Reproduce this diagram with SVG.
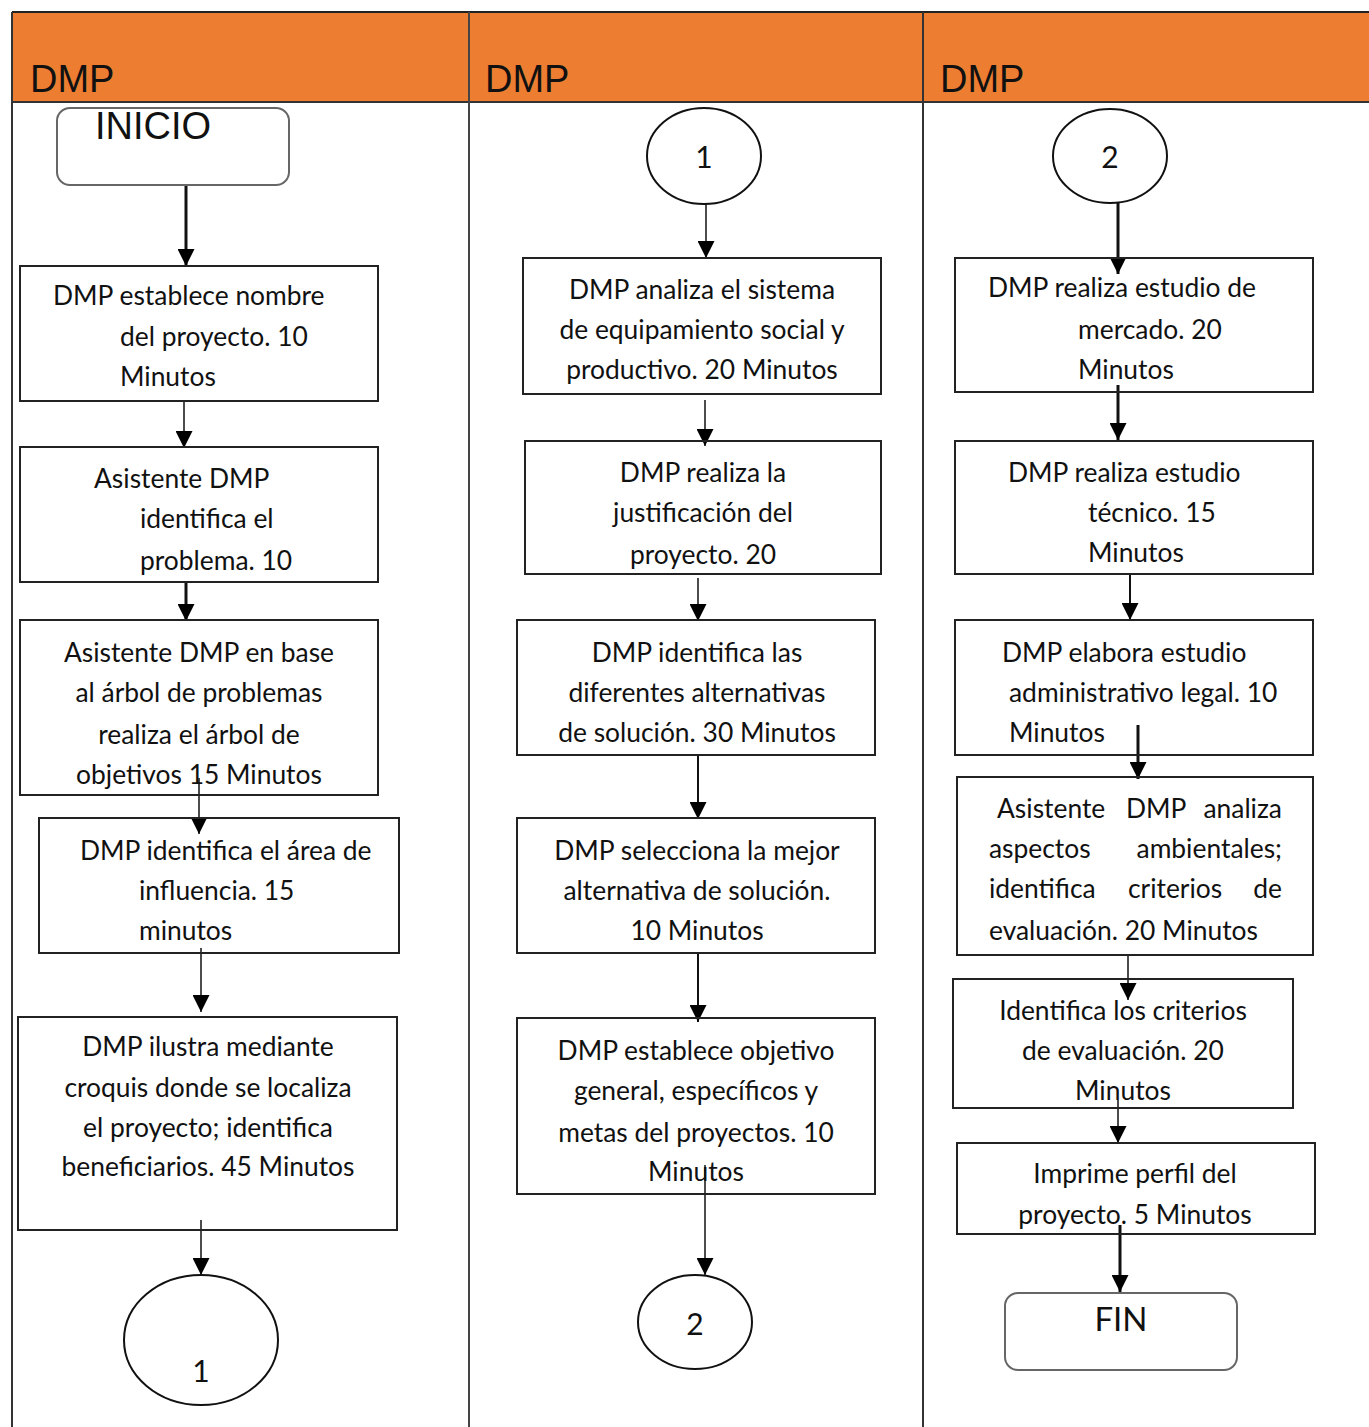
<svg xmlns="http://www.w3.org/2000/svg" width="1369" height="1427" viewBox="0 0 1369 1427">
<defs>
<style>
.box{fill:#fff;stroke:#222;stroke-width:2}
.term{fill:#fff;stroke:#666;stroke-width:2}
.ell{fill:#fff;stroke:#111;stroke-width:2}
.t{font-family:Lato,"Liberation Sans",sans-serif;font-size:26.4px;fill:#111}
.tc{font-family:Lato,"Liberation Sans",sans-serif;font-size:26.4px;fill:#111;text-anchor:middle}
.num{font-family:Lato,"Liberation Sans",sans-serif;font-size:30px;fill:#111;text-anchor:middle}
.fin{font-family:Lato,"Liberation Sans",sans-serif;font-size:33px;fill:#111;text-anchor:middle}
.hd{font-family:"Liberation Sans",Arial,sans-serif;font-size:38px;fill:#111}
.c{stroke:#111;fill:none}
.thin{stroke-width:1.5}
.thick{stroke-width:3}
</style>
<marker id="ah" viewBox="0 0 10 10" refX="10" refY="5" markerWidth="17" markerHeight="17" markerUnits="userSpaceOnUse" orient="auto">
<path d="M0,0 L10,5 L0,10 z" fill="#000"/>
</marker>
</defs>
<rect width="1369" height="1427" fill="#fff"/>
<g id="lanes">
<rect x="12" y="12" width="1370" height="90" fill="#ED7D31"/>
<line x1="12" y1="12" x2="1369" y2="12" stroke="#222" stroke-width="2"/>
<line x1="12" y1="102" x2="1369" y2="102" stroke="#333" stroke-width="2"/>
<line x1="12" y1="12" x2="12" y2="1427" stroke="#333" stroke-width="2"/>
<line x1="469" y1="12" x2="469" y2="1427" stroke="#444" stroke-width="2"/>
<line x1="923" y1="12" x2="923" y2="1427" stroke="#333" stroke-width="2"/>
<text class="hd" x="30" y="92">DMP</text>
<text class="hd" x="485" y="92">DMP</text>
<text class="hd" x="940" y="92">DMP</text>
</g>
<g id="connectors">
<line class="c thick" x1="186" y1="185" x2="186" y2="266" marker-end="url(#ah)"/>
<line class="c thin" x1="184" y1="402" x2="184" y2="448" marker-end="url(#ah)"/>
<line class="c thick" x1="186" y1="583" x2="186" y2="621" marker-end="url(#ah)"/>
<line class="c thin" x1="199" y1="778" x2="199" y2="834" marker-end="url(#ah)"/>
<line class="c thin" x1="201" y1="948" x2="201" y2="1012" marker-end="url(#ah)"/>
<line class="c thin" x1="201" y1="1220" x2="201" y2="1275" marker-end="url(#ah)"/>
<line class="c thin" x1="706" y1="204" x2="706" y2="258" marker-end="url(#ah)"/>
<line class="c thin" x1="705" y1="400" x2="705" y2="446" marker-end="url(#ah)"/>
<line class="c thin" x1="698" y1="578" x2="698" y2="621" marker-end="url(#ah)"/>
<line class="c" stroke-width="2" x1="698" y1="755" x2="698" y2="819" marker-end="url(#ah)"/>
<line class="c" stroke-width="2" x1="698" y1="953" x2="698" y2="1022" marker-end="url(#ah)"/>
<line class="c thin" x1="705" y1="1165" x2="705" y2="1275" marker-end="url(#ah)"/>
<line class="c thick" x1="1118" y1="203" x2="1118" y2="274" marker-end="url(#ah)"/>
<line class="c thick" x1="1118" y1="385" x2="1118" y2="440" marker-end="url(#ah)"/>
<line class="c" stroke-width="2" x1="1130" y1="574" x2="1130" y2="620" marker-end="url(#ah)"/>
<line class="c thick" x1="1138" y1="725" x2="1138" y2="779" marker-end="url(#ah)"/>
<line class="c thin" x1="1128" y1="955" x2="1128" y2="1000" marker-end="url(#ah)"/>
<line class="c thin" x1="1118" y1="1100" x2="1118" y2="1143" marker-end="url(#ah)"/>
<line class="c thick" x1="1120" y1="1225" x2="1120" y2="1292" marker-end="url(#ah)"/>
</g>
<g id="inicio"><rect class="term" x="57" y="108" width="232" height="77" rx="13"/><text class="hd" x="95" y="139">INICIO</text></g>
<g id="n1"><rect class="box" x="20" y="266" width="358" height="135" fill-opacity="0"/>
<text class="t" x="53" y="305">DMP establece nombre</text><text class="t" x="120" y="346">del proyecto. 10</text><text class="t" x="120" y="386">Minutos</text></g>
<g id="n2"><rect class="box" x="20" y="447" width="358" height="135" fill-opacity="0"/>
<text class="t" x="94" y="488">Asistente DMP</text><text class="t" x="140" y="528">identifica el</text><text class="t" x="140" y="570">problema. 10</text></g>
<g id="n3"><rect class="box" x="20" y="620" width="358" height="175" fill-opacity="0"/>
<text class="tc" x="199" y="662">Asistente DMP en base</text><text class="tc" x="199" y="702">al árbol de problemas</text><text class="tc" x="199" y="744">realiza el árbol de</text><text class="tc" x="199" y="784">objetivos 15 Minutos</text></g>
<g id="n4"><rect class="box" x="39" y="818" width="360" height="135" fill-opacity="0"/>
<text class="t" x="80" y="860">DMP identifica el área de</text><text class="t" x="139" y="900">influencia. 15</text><text class="t" x="139" y="940">minutos</text></g>
<g id="n5"><rect class="box" x="18" y="1017" width="379" height="213" fill-opacity="0"/>
<text class="tc" x="208" y="1056">DMP ilustra mediante</text><text class="tc" x="208" y="1097">croquis donde se localiza</text><text class="tc" x="208" y="1137">el proyecto; identifica</text><text class="tc" x="208" y="1176">beneficiarios. 45 Minutos</text></g>
<g id="c1a"><ellipse class="ell" cx="201" cy="1340" rx="77" ry="65"/><text class="num" x="201" y="1382">1</text></g>
<g id="c1b"><ellipse class="ell" cx="704" cy="156" rx="57" ry="48"/><text class="num" x="704" y="168">1</text></g>
<g id="m1"><rect class="box" x="523" y="258" width="358" height="136" fill-opacity="0"/>
<text class="tc" x="702" y="299">DMP analiza el sistema</text><text class="tc" x="702" y="339">de equipamiento social y</text><text class="tc" x="702" y="379">productivo. 20 Minutos</text></g>
<g id="m2"><rect class="box" x="525" y="441" width="356" height="133" fill-opacity="0"/>
<text class="tc" x="703" y="482">DMP realiza la</text><text class="tc" x="703" y="522">justificación del</text><text class="tc" x="703" y="564">proyecto. 20</text></g>
<g id="m3"><rect class="box" x="517" y="620" width="358" height="135" fill-opacity="0"/>
<text class="tc" x="697" y="662">DMP identifica las</text><text class="tc" x="697" y="702">diferentes alternativas</text><text class="tc" x="697" y="742">de solución. 30 Minutos</text></g>
<g id="m4"><rect class="box" x="517" y="818" width="358" height="135" fill-opacity="0"/>
<text class="tc" x="697" y="860">DMP selecciona la mejor</text><text class="tc" x="697" y="900">alternativa de solución.</text><text class="tc" x="697" y="940">10 Minutos</text></g>
<g id="m5"><rect class="box" x="517" y="1018" width="358" height="176" fill-opacity="0"/>
<text class="tc" x="696" y="1060">DMP establece objetivo</text><text class="tc" x="696" y="1100">general, específicos y</text><text class="tc" x="696" y="1142">metas del proyectos. 10</text><text class="tc" x="696" y="1181">Minutos</text></g>
<g id="c2a"><ellipse class="ell" cx="695" cy="1322" rx="57" ry="47"/><text class="num" x="695" y="1335">2</text></g>
<g id="c2b"><ellipse class="ell" cx="1110" cy="156" rx="57" ry="47"/><text class="num" x="1110" y="168">2</text></g>
<g id="r1"><rect class="box" x="955" y="258" width="358" height="134" fill-opacity="0"/>
<text class="t" x="988" y="297">DMP realiza estudio de</text><text class="t" x="1078" y="339">mercado. 20</text><text class="t" x="1078" y="379">Minutos</text></g>
<g id="r2"><rect class="box" x="955" y="441" width="358" height="133" fill-opacity="0"/>
<text class="t" x="1008" y="482">DMP realiza estudio</text><text class="t" x="1088" y="522">técnico. 15</text><text class="t" x="1088" y="562">Minutos</text></g>
<g id="r3"><rect class="box" x="955" y="620" width="358" height="135" fill-opacity="0"/>
<text class="t" x="1002" y="662">DMP elabora estudio</text><text class="t" x="1009" y="702">administrativo legal. 10</text><text class="t" x="1009" y="742">Minutos</text></g>
<g id="r4"><rect class="box" x="957" y="777" width="356" height="178" fill-opacity="0"/>
<text class="t" y="818"><tspan x="997">Asistente</tspan><tspan x="1126">DMP</tspan><tspan x="1282" text-anchor="end">analiza</tspan></text>
<text class="t" y="858"><tspan x="989">aspectos</tspan><tspan x="1282" text-anchor="end">ambientales;</tspan></text>
<text class="t" y="898"><tspan x="989">identifica</tspan><tspan x="1128">criterios</tspan><tspan x="1282" text-anchor="end">de</tspan></text>
<text class="t" x="989" y="940">evaluación. 20 Minutos</text></g>
<g id="r5"><rect class="box" x="953" y="979" width="340" height="129" fill-opacity="0"/>
<text class="tc" x="1123" y="1020">Identifica los criterios</text><text class="tc" x="1123" y="1060">de evaluación. 20</text><text class="tc" x="1123" y="1100">Minutos</text></g>
<g id="r6"><rect class="box" x="957" y="1143" width="358" height="91" fill-opacity="0"/>
<text class="tc" x="1135" y="1183">Imprime perfil del</text><text class="tc" x="1135" y="1224">proyecto. 5 Minutos</text></g>
<g id="fin"><rect class="term" x="1005" y="1293" width="232" height="77" rx="13"/><text class="fin" x="1121" y="1331">FIN</text></g>
</svg>
